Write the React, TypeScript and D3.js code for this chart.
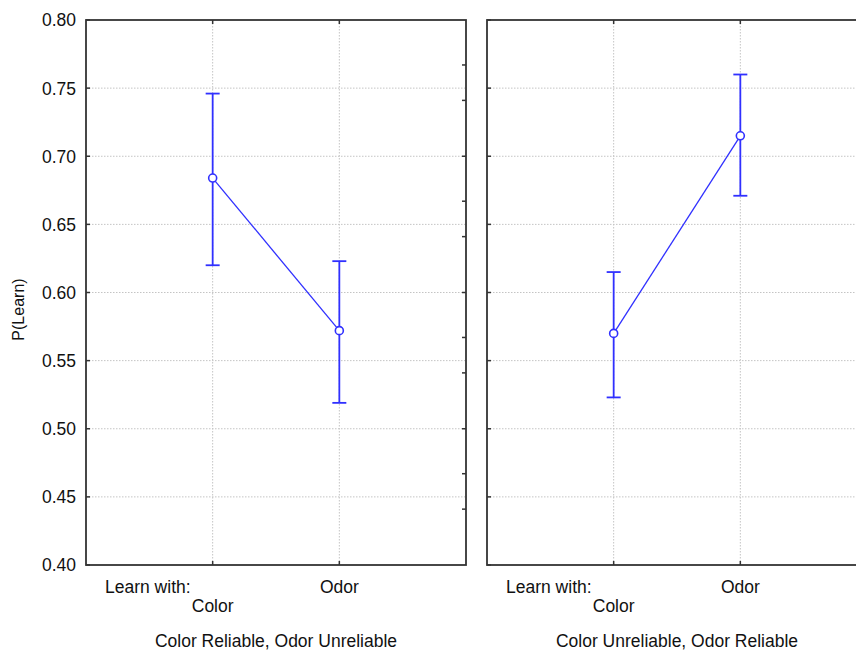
import React, { useEffect, useRef } from "react";
import * as d3 from "d3";

// categories on the x axis
const categories = ["Color", "Odor"];

// panel titles
const panelTitles = [
  "Color Reliable, Odor Unreliable",
  "Color Unreliable, Odor Reliable",
];

// means and error bar limits, one array per panel
const meanColorReliable = [0.684, 0.572];
const upperColorReliable = [0.746, 0.623];
const lowerColorReliable = [0.62, 0.519];

const meanOdorReliable = [0.57, 0.715];
const upperOdorReliable = [0.615, 0.76];
const lowerOdorReliable = [0.523, 0.671];

// y ticks (left axis, labeled)
const yTicks = [0.4, 0.45, 0.5, 0.55, 0.6, 0.65, 0.7, 0.75, 0.8];
const yTickLabels = ["0.40", "0.45", "0.50", "0.55", "0.60", "0.65", "0.70", "0.75", "0.80"];

// unlabeled ticks on the right side of each panel
const rightTicks = [0.441, 0.467, 0.5, 0.541, 0.567, 0.6, 0.641, 0.667, 0.7, 0.741, 0.767];

const App = () => {
  const ref = useRef<SVGSVGElement>(null);

  useEffect(() => {
    const width = 856;
    const height = 652;
    const top = 20;
    const bottom = 565;
    const panels = [
      { x0: 86, x1: 466, mean: meanColorReliable, hi: upperColorReliable, lo: lowerColorReliable, title: panelTitles[0] },
      { x0: 487, x1: 867, mean: meanOdorReliable, hi: upperOdorReliable, lo: lowerOdorReliable, title: panelTitles[1] },
    ];
    const font = "'Liberation Sans', Arial, sans-serif";
    const blue = "#3030ff";
    const frame = "#333";
    const grid = "#c4c4c4";
    const ink = "#111";

    const svg = d3.select(ref.current);
    svg.selectAll("*").remove();
    svg.attr("width", width).attr("height", height);

    svg.append("rect").attr("width", width).attr("height", height).attr("fill", "#fff");

    const y = d3.scaleLinear().domain([0.4, 0.8]).range([bottom, top]);

    // y axis labels on the left panel
    svg
      .selectAll("text.ytick")
      .data(yTicks)
      .enter()
      .append("text")
      .attr("class", "ytick")
      .attr("x", 76)
      .attr("y", (d) => y(d))
      .attr("dy", "0.37em")
      .attr("text-anchor", "end")
      .attr("font-family", font)
      .attr("font-size", "17.5px")
      .attr("fill", ink)
      .text((d, i) => yTickLabels[i]);

    svg
      .append("text")
      .attr("transform", `translate(24, ${(top + bottom) / 2 + 17}) rotate(-90)`)
      .attr("text-anchor", "middle")
      .attr("font-family", font)
      .attr("font-size", "16px")
      .attr("fill", ink)
      .text("P(Learn)");

    panels.forEach((p) => {
      const x = d3.scalePoint().domain(categories).range([p.x0, p.x1]).padding(1);
      const g = svg.append("g");

      // gridlines
      g.selectAll("line.hgrid")
        .data(yTicks.slice(1, -1))
        .enter()
        .append("line")
        .attr("x1", p.x0)
        .attr("x2", p.x1)
        .attr("y1", (d) => y(d))
        .attr("y2", (d) => y(d))
        .attr("stroke", grid)
        .attr("stroke-width", 1)
        .attr("stroke-dasharray", "1.5,1.5");

      g.selectAll("line.vgrid")
        .data(categories)
        .enter()
        .append("line")
        .attr("x1", (d) => x(d)!)
        .attr("x2", (d) => x(d)!)
        .attr("y1", top)
        .attr("y2", bottom)
        .attr("stroke", grid)
        .attr("stroke-width", 1)
        .attr("stroke-dasharray", "1.5,1.5");

      // left ticks (inward)
      g.selectAll("line.lt")
        .data(yTicks)
        .enter()
        .append("line")
        .attr("x1", p.x0)
        .attr("x2", p.x0 + 4)
        .attr("y1", (d) => y(d))
        .attr("y2", (d) => y(d))
        .attr("stroke", frame)
        .attr("stroke-width", 1.5);

      // right ticks (inward)
      g.selectAll("line.rt")
        .data(rightTicks)
        .enter()
        .append("line")
        .attr("x1", p.x1)
        .attr("x2", p.x1 - 4)
        .attr("y1", (d) => y(d))
        .attr("y2", (d) => y(d))
        .attr("stroke", frame)
        .attr("stroke-width", 1.5);

      // top and bottom category ticks
      categories.forEach((c) => {
        g.append("line")
          .attr("x1", x(c)!).attr("x2", x(c)!)
          .attr("y1", top).attr("y2", top + 4)
          .attr("stroke", frame).attr("stroke-width", 1.5);
        g.append("line")
          .attr("x1", x(c)!).attr("x2", x(c)!)
          .attr("y1", bottom).attr("y2", bottom - 4)
          .attr("stroke", frame).attr("stroke-width", 1.5);
      });

      // frame
      g.append("rect")
        .attr("x", p.x0)
        .attr("y", top)
        .attr("width", p.x1 - p.x0)
        .attr("height", bottom - top)
        .attr("fill", "none")
        .attr("stroke", frame)
        .attr("stroke-width", 1.8);

      // connecting line
      const line = d3
        .line<number>()
        .x((d, i) => x(categories[i])!)
        .y((d) => y(d));
      g.append("path")
        .attr("d", line(p.mean))
        .attr("fill", "none")
        .attr("stroke", blue)
        .attr("stroke-width", 1.3);

      // error bars
      categories.forEach((c, i) => {
        const cx = x(c)!;
        g.append("line")
          .attr("x1", cx).attr("x2", cx)
          .attr("y1", y(p.hi[i])).attr("y2", y(p.lo[i]))
          .attr("stroke", blue).attr("stroke-width", 1.8);
        [p.hi[i], p.lo[i]].forEach((v) => {
          g.append("line")
            .attr("x1", cx - 7).attr("x2", cx + 7)
            .attr("y1", y(v)).attr("y2", y(v))
            .attr("stroke", blue).attr("stroke-width", 1.8);
        });
        g.append("circle")
          .attr("cx", cx)
          .attr("cy", y(p.mean[i]))
          .attr("r", 4)
          .attr("fill", "#fff")
          .attr("stroke", blue)
          .attr("stroke-width", 1.6);
      });

      // category labels
      const text = (tx: number, ty: number, s: string, anchor: string) =>
        g.append("text")
          .attr("x", tx)
          .attr("y", ty)
          .attr("text-anchor", anchor)
          .attr("font-family", font)
          .attr("font-size", "17.5px")
          .attr("fill", ink)
          .text(s);

      text(p.x0 + 19, 593, "Learn with:", "start");
      text(x(categories[0])!, 612, categories[0], "middle");
      text(x(categories[1])!, 593, categories[1], "middle");
      text((p.x0 + p.x1) / 2, 647, p.title, "middle");
    });
  }, []);

  return (
    <svg
      ref={ref}
      style={{ position: "absolute", left: 0, top: 0, display: "block" }}
    ></svg>
  );
};

export default App;
